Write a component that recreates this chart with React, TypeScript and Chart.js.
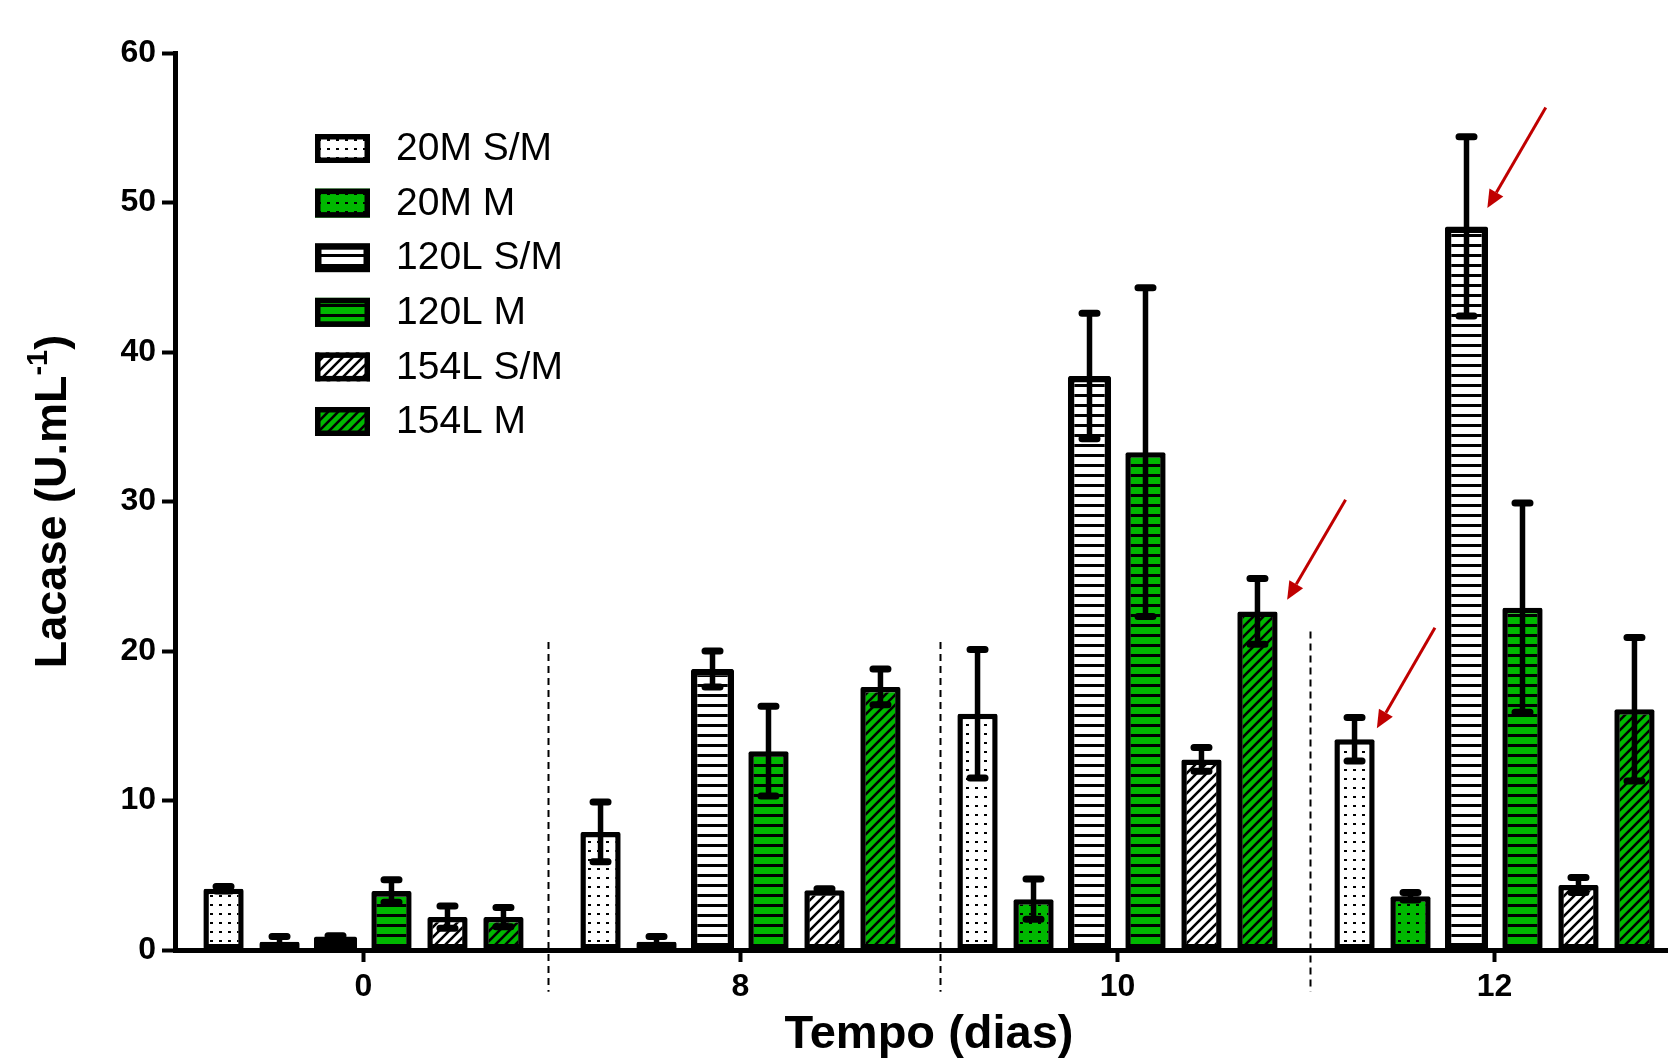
import React, { useEffect, useRef } from "react";
import { Chart, registerables } from "chart.js";

Chart.register(...registerables);

// ---------- data ----------
const categories = ["0", "8", "10", "12"];
const seriesLabels = ["20M S/M", "20M M", "120L S/M", "120L M", "154L S/M", "154L M"];

const val20MSM = [4.1, 7.9, 15.8, 14.1];
const val20MM = [0.55, 0.55, 3.4, 3.6];
const val120LSM = [0.9, 18.8, 38.4, 48.4];
const val120LM = [3.95, 13.3, 33.3, 22.9];
const val154LSM = [2.2, 4.0, 12.75, 4.35];
const val154LM = [2.2, 17.6, 22.65, 16.1];

const err20MSM = [0.15, 2.0, 4.3, 1.45];
const err20MM = [0.35, 0.35, 1.35, 0.25];
const err120LSM = [0.05, 1.2, 4.2, 6.0];
const err120LM = [0.75, 3.0, 11.0, 7.0];
const err154LSM = [0.75, 0.1, 0.8, 0.5];
const err154LM = [0.65, 1.2, 2.2, 4.8];

const yMin = 0;
const yMax = 60;
const yStep = 10;

const yTitleMain = "Lacase (U.mL";
const yTitleSup = "-1";
const yTitleEnd = ")";
const xTitle = "Tempo (dias)";

// dashed separators (category units, value units)
const sepX = [0.49, 1.53, 2.51];
const sepTop = [20.6, 20.6, 21.3];
const sepBottom = -2.8;

// red arrows (category units / value units)
const arrowX1 = [3.136, 2.605, 2.842];
const arrowY1 = [56.36, 30.11, 21.55];
const arrowX2 = [2.981, 2.45, 2.688];
const arrowY2 = [49.63, 23.42, 14.83];

// ---------- styles ----------
const GREEN = "#00B800";
const FONT = "'Liberation Sans', Arial, Helvetica, sans-serif";

function makePattern(ctx: CanvasRenderingContext2D, kind: string, bg: string) {
  const c = document.createElement("canvas");
  const t = c.getContext("2d")!;
  if (kind === "dots") {
    c.width = 9;
    c.height = 9;
    t.fillStyle = bg;
    t.fillRect(0, 0, 9, 9);
    t.fillStyle = "#000";
    t.fillRect(3, 4, 3, 2);
  } else if (kind === "hlines") {
    c.width = 10;
    c.height = 10;
    t.fillStyle = bg;
    t.fillRect(0, 0, 10, 10);
    t.fillStyle = "#000";
    t.fillRect(0, 4, 10, 3);
  } else {
    const s = 10;
    c.width = s;
    c.height = s;
    t.fillStyle = bg;
    t.fillRect(0, 0, s, s);
    t.strokeStyle = "#000";
    t.lineWidth = 2.6;
    t.beginPath();
    t.moveTo(-1, s + 1);
    t.lineTo(s + 1, -1);
    t.moveTo(-s / 2 - 1, s / 2 + 1);
    t.lineTo(s / 2 + 1, -s / 2 - 1);
    t.moveTo(s / 2 - 1, s * 1.5 + 1);
    t.lineTo(s * 1.5 + 1, s / 2 - 1);
    t.stroke();
  }
  return ctx.createPattern(c, "repeat")!;
}

export default function App() {
  const canvasRef = useRef<HTMLCanvasElement | null>(null);

  useEffect(() => {
    const canvas = canvasRef.current!;
    const ctx = canvas.getContext("2d")!;

    const values = [val20MSM, val20MM, val120LSM, val120LM, val154LSM, val154LM];
    const errors = [err20MSM, err20MM, err120LSM, err120LM, err154LSM, err154LM];
    const kinds = ["dots", "dots", "hlines", "hlines", "diag", "diag"];
    const bgs = ["#FFFFFF", GREEN, "#FFFFFF", GREEN, "#FFFFFF", GREEN];
    const borderWidths = [5.5, 5.5, 6.5, 5.5, 5.5, 5.5];
    const barPcts = [0.72, 0.72, 0.77, 0.72, 0.72, 0.72];

    const datasets = values.map((v, i) => ({
      label: seriesLabels[i],
      data: v,
      backgroundColor: makePattern(ctx, kinds[i], bgs[i]),
      borderColor: "#000",
      borderWidth: borderWidths[i],
      borderSkipped: false,
      borderRadius: 2,
      barPercentage: barPcts[i],
      categoryPercentage: 0.891,
    }));

    const xFrac = (chart: any, f: number) => {
      const xs = chart.scales.x;
      const p0 = xs.getPixelForValue(0);
      const p1 = xs.getPixelForValue(1);
      return p0 + f * (p1 - p0);
    };

    const errorBars = {
      id: "errorBars",
      afterDatasetsDraw(chart: any) {
        const c = chart.ctx;
        const ys = chart.scales.y;
        c.save();
        c.strokeStyle = "#000";
        chart.data.datasets.forEach((ds: any, i: number) => {
          const meta = chart.getDatasetMeta(i);
          meta.data.forEach((bar: any, j: number) => {
            const v = ds.data[j];
            const e = errors[i][j];
            const x = bar.x;
            const yt = ys.getPixelForValue(v + e);
            const yb = ys.getPixelForValue(v - e);
            c.lineCap = "butt";
            c.lineWidth = 5.5;
            c.beginPath();
            c.moveTo(x, yt);
            c.lineTo(x, yb);
            c.stroke();
            c.lineCap = "round";
            c.lineWidth = 7;
            c.beginPath();
            c.moveTo(x - 7.5, yt);
            c.lineTo(x + 7.5, yt);
            c.moveTo(x - 7.5, yb);
            c.lineTo(x + 7.5, yb);
            c.stroke();
          });
        });
        c.restore();
      },
    };

    const decorations = {
      id: "decorations",
      afterDraw(chart: any) {
        const c = chart.ctx;
        const ys = chart.scales.y;
        const area = chart.chartArea;
        c.save();

        // dashed separators
        c.strokeStyle = "#000";
        c.lineWidth = 2;
        c.setLineDash([7, 5]);
        sepX.forEach((f, i) => {
          const x = Math.round(xFrac(chart, f)) + 0.5;
          c.beginPath();
          c.moveTo(x, ys.getPixelForValue(sepTop[i]));
          c.lineTo(x, ys.getPixelForValue(sepBottom));
          c.stroke();
        });
        c.setLineDash([]);

        // red arrows
        c.strokeStyle = "#C00000";
        c.fillStyle = "#C00000";
        arrowX1.forEach((_, i) => {
          const x1 = xFrac(chart, arrowX1[i]);
          const y1 = ys.getPixelForValue(arrowY1[i]);
          const x2 = xFrac(chart, arrowX2[i]);
          const y2 = ys.getPixelForValue(arrowY2[i]);
          const ang = Math.atan2(y2 - y1, x2 - x1);
          const hl = 18;
          const hw = 8;
          const bx = x2 - hl * Math.cos(ang);
          const by = y2 - hl * Math.sin(ang);
          c.lineWidth = 3;
          c.beginPath();
          c.moveTo(x1, y1);
          c.lineTo(bx, by);
          c.stroke();
          c.beginPath();
          c.moveTo(x2, y2);
          c.lineTo(bx + hw * Math.sin(ang), by - hw * Math.cos(ang));
          c.lineTo(bx - hw * Math.sin(ang), by + hw * Math.cos(ang));
          c.closePath();
          c.fill();
        });

        // legend
        const lx = 315;
        const lw = 55;
        const lh = 29;
        const ly0 = 148.5;
        const lstep = 54.6;
        c.font = `39px ${FONT}`;
        c.textBaseline = "middle";
        c.textAlign = "left";
        chart.data.datasets.forEach((ds: any, i: number) => {
          const cy = ly0 + i * lstep;
          const top = cy - lh / 2;
          c.fillStyle = ds.backgroundColor;
          c.fillRect(lx, top, lw, lh);
          const bw = ds.borderWidth;
          c.strokeStyle = "#000";
          c.lineWidth = bw;
          c.strokeRect(lx + bw / 2, top + bw / 2, lw - bw, lh - bw);
          c.fillStyle = "#000";
          c.fillText(ds.label, 396, cy + 1);
        });

        // y title with superscript
        c.save();
        c.translate(66, (area.top + area.bottom) / 2);
        c.rotate(-Math.PI / 2);
        c.fillStyle = "#000";
        c.textBaseline = "alphabetic";
        c.textAlign = "left";
        const mainFont = `bold 45px ${FONT}`;
        const supFont = `bold 29px ${FONT}`;
        c.font = mainFont;
        const w1 = c.measureText(yTitleMain).width;
        const w3 = c.measureText(yTitleEnd).width;
        c.font = supFont;
        const w2 = c.measureText(yTitleSup).width;
        const total = w1 + w2 + w3;
        let sx = -total / 2;
        c.font = mainFont;
        c.fillText(yTitleMain, sx, 0);
        sx += w1;
        c.font = supFont;
        c.fillText(yTitleSup, sx, -19);
        sx += w2;
        c.font = mainFont;
        c.fillText(yTitleEnd, sx, 0);
        c.restore();

        // x title
        c.font = `bold 47px ${FONT}`;
        c.fillStyle = "#000";
        c.textAlign = "center";
        c.textBaseline = "alphabetic";
        c.fillText(xTitle, (area.left + area.right) / 2, 1048);

        c.restore();
      },
    };

    const chart = new Chart(canvas, {
      type: "bar",
      data: { labels: categories, datasets: datasets as any },
      options: {
        animation: false,
        responsive: false,
        maintainAspectRatio: false,
        devicePixelRatio: 1,
        layout: { padding: { top: 53, left: 0, right: 17, bottom: 0 } },
        plugins: {
          legend: { display: false },
          tooltip: { enabled: false },
          title: { display: false },
        },
        scales: {
          x: {
            offset: true,
            grid: {
              offset: false,
              drawOnChartArea: false,
              drawTicks: true,
              tickLength: 12,
              tickWidth: 4,
              tickColor: "#000",
              color: "#000",
            },
            border: { display: true, width: 5, color: "#000" },
            ticks: {
              color: "#000",
              padding: 6,
              font: { family: FONT, size: 32, weight: "bold" },
            },
            afterFit: (s: any) => {
              s.height = 110;
            },
          },
          y: {
            min: yMin,
            max: yMax,
            ticks: {
              stepSize: yStep,
              color: "#000",
              padding: 6,
              font: { family: FONT, size: 32, weight: "bold" },
            },
            grid: {
              drawOnChartArea: false,
              drawTicks: true,
              tickLength: 13,
              tickWidth: 4,
              tickColor: "#000",
              color: "#000",
            },
            border: { display: true, width: 5, color: "#000" },
            afterFit: (s: any) => {
              s.width = 175;
            },
          },
        },
      } as any,
      plugins: [errorBars, decorations],
    });

    return () => {
      chart.destroy();
    };
  }, []);

  return (
    <div
      style={{
        position: "absolute",
        left: 0,
        top: 0,
        width: 1668,
        height: 1060,
        overflow: "hidden",
        background: "#fff",
      }}
    >
      <canvas
        ref={canvasRef}
        width={1700}
        height={1060}
        style={{ display: "block", width: 1700, height: 1060 }}
      />
    </div>
  );
}
